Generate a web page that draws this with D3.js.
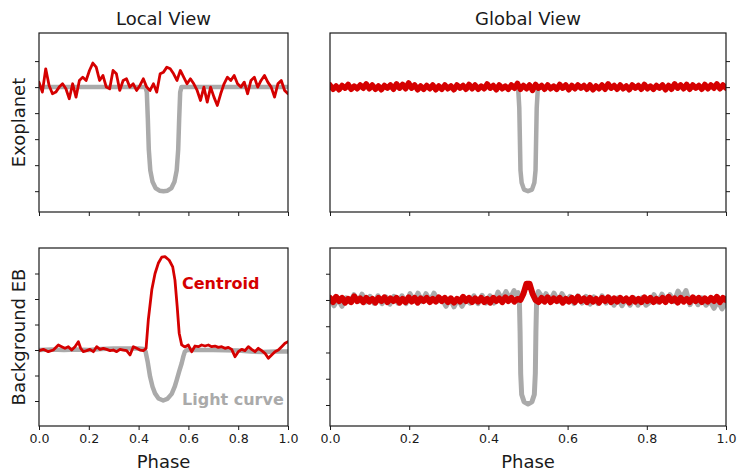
<!DOCTYPE html>
<html>
<head>
<meta charset="utf-8">
<script src="https://cdn.jsdelivr.net/npm/d3@7"></script>
<style>
  html, body { margin: 0; padding: 0; background: #fff; }
  svg { display: block; font-family: "DejaVu Sans", sans-serif; }
</style>
</head>
<body>
<svg id="chart" width="738" height="471"></svg>
<script>
// ---------------- data ----------------
const phaseTicks = [0, 0.2, 0.4, 0.6, 0.8, 1.0];
const phaseTickLabels = ["0.0", "0.2", "0.4", "0.6", "0.8", "1.0"];
const rowLabels = ["Exoplanet", "Background EB"];
const columnTitles = ["Local View", "Global View"];

// Exoplanet, local view: folded light curve
const exoLocalLightPhase = [0, 0.428, 0.433, 0.437, 0.441, 0.447, 0.456, 0.468, 0.484, 0.5, 0.516, 0.532, 0.544, 0.553, 0.559, 0.563, 0.567, 0.572, 1];
const exoLocalLightFlux  = [0, 0, -0.05, -0.3, -0.6, -0.8, -0.91, -0.97, -0.995, -1.0, -0.995, -0.97, -0.91, -0.8, -0.6, -0.3, -0.05, 0, 0];

// Exoplanet, local view: centroid shift (evenly spaced in phase)
const exoLocalCentroid = [
  0.048, -0.048, 0.176, 0.016, -0.064, -0.048, 0, 0.032, -0.016, -0.112,
  0.032, -0.096, 0.064, 0.096, 0.064, 0.16, 0.231, 0.192, 0.064, 0.112,
  0, -0.016, 0.16, 0.128, -0.032, 0.064, 0.08, 0, 0.032, -0.032,
  0.016, 0.08, 0, -0.032, 0.032, -0.048, 0.128, 0.144, 0.192, 0.176,
  0.128, 0.064, 0.16, 0.096, 0.032, 0.08, 0.032, -0.032, -0.128, 0,
  -0.144, 0, -0.096, -0.176, -0.064, 0.032, 0.096, 0.064, 0.112, 0.032,
  0, 0.048, -0.064, 0.064, 0.096, 0, 0.064, 0.112, 0.048, 0,
  -0.096, 0.032, 0.064, -0.032, -0.064
];

// Exoplanet, global view: folded light curve
const exoGlobalLightPhase = [0, 0.475, 0.478, 0.4795, 0.481, 0.484, 0.49, 0.5, 0.51, 0.516, 0.519, 0.5205, 0.522, 0.525, 1];
const exoGlobalLightFlux  = [0, 0, -0.2, -0.5, -0.8, -0.92, -0.985, -1.0, -0.985, -0.92, -0.8, -0.5, -0.2, 0, 0];

// Exoplanet, global view: centroid shift (evenly spaced in phase)
const exoGlobalCentroid = [
  0.02, -0.02, 0.01, -0.025, 0.015, -0.01, 0.025, -0.02, 0.01, -0.015, 0.02, -0.01,
  0.03, -0.015, 0.02, -0.02, 0.01, -0.025, 0.015, -0.01, 0.02, -0.02, 0.03, -0.01,
  0.025, -0.015, 0.04, -0.01, 0.02, -0.025, 0.01, -0.02, 0.015, -0.015, 0.02, -0.025,
  0.01, -0.02, 0.02, -0.015, 0.01, -0.025, 0.02, -0.01, 0.015, -0.02, 0.025, -0.015,
  0.02, -0.02, 0.01, -0.015, 0.03, -0.01, 0.015, -0.025, 0.02, -0.015, 0.01, -0.02,
  0.02, -0.01, 0.035, -0.02, 0.015, -0.015, 0.02, -0.03, 0.025, -0.01, 0.015, -0.02,
  0.02, -0.015, 0.01, -0.02, 0.025, -0.01, 0.02, -0.025, 0.015, -0.015, 0.02, -0.01,
  0.015, -0.02, 0.02, -0.025, 0.01, -0.015, 0.02, -0.02, 0.03, -0.01, 0.015, -0.02,
  0.02, -0.015, 0.01, -0.025, 0.02, -0.01, 0.015, -0.02, 0.025, -0.015, 0.01, -0.02,
  0.015, -0.01, 0.02, -0.025, 0.015, -0.02, 0.03, -0.01, 0.02, -0.015, 0.025, -0.02,
  0.02, -0.01, 0.015, -0.02, 0.025, -0.015, 0.02, -0.01, 0.03, -0.015, 0.02, -0.01
];

// Background EB, local view: folded light curve
const ebLocalLightPhase = [0, 0.05, 0.1, 0.15, 0.2, 0.25, 0.3, 0.35, 0.4, 0.42, 0.428, 0.436, 0.446, 0.456, 0.466, 0.48, 0.499, 0.515, 0.533, 0.545, 0.553, 0.563, 0.573, 0.58, 0.586, 0.595, 0.62, 0.7, 0.8, 0.85, 0.9, 0.95, 1];
const ebLocalLightFlux  = [0, 0.01, 0, 0.01, 0, 0.02, 0.03, 0.03, 0.03, 0.02, -0.03, -0.22, -0.52, -0.72, -0.85, -0.95, -0.99, -0.96, -0.86, -0.72, -0.59, -0.42, -0.26, -0.12, -0.03, 0, 0, 0, -0.01, -0.03, -0.04, -0.03, -0.03];

// Background EB, local view: centroid shift
const ebLocalCentroidPhase = [
  0, 0.0174, 0.0375, 0.0576, 0.0777, 0.091, 0.1044, 0.1178, 0.1312, 0.1446,
  0.158, 0.1673, 0.178, 0.1914, 0.2048, 0.2182, 0.2316, 0.245, 0.2584, 0.2718,
  0.2851, 0.2985, 0.3119, 0.3253, 0.3387, 0.3521, 0.3655, 0.3789, 0.3923, 0.4056,
  0.419, 0.43, 0.439, 0.453, 0.466, 0.479, 0.493, 0.506, 0.523, 0.537,
  0.546, 0.555, 0.563, 0.573, 0.586, 0.5998, 0.6132, 0.6265, 0.6399, 0.6533,
  0.6667, 0.6801, 0.6935, 0.7068, 0.7202, 0.7336, 0.747, 0.7604, 0.7738, 0.7871,
  0.8005, 0.8139, 0.8273, 0.8407, 0.854, 0.8674, 0.8808, 0.8942, 0.9076, 0.921,
  0.9343, 0.9477, 0.9611, 0.9745, 0.9879, 1
];
const ebLocalCentroidShift = [
  -0.013, 0.013, -0.033, 0, 0.098, 0.065, 0.033, 0.065, 0, 0.065,
  0.163, 0.033, -0.033, -0.013, 0.013, -0.033, 0.065, 0.013, 0.033, 0.013,
  -0.013, 0, -0.033, 0.013, 0, -0.013, -0.098, 0.065, 0.033, 0,
  -0.013, 0.03, 0.59, 1.18, 1.5, 1.7, 1.82, 1.83, 1.76, 1.63,
  1.37, 0.85, 0.33, 0.1, 0.06, 0.098, -0.033, 0.078, 0.065, 0.098,
  0.078, 0.098, 0.065, 0.078, 0.052, 0.065, 0.033, 0.052, 0.013, -0.131,
  -0.033, 0.013, -0.013, 0.065, 0.013, -0.033, 0.033, -0.013, -0.065, -0.163,
  -0.098, -0.033, 0, 0.065, 0.131, 0.163
];

// Background EB, global view: light curve out of eclipse (evenly spaced in phase)
const ebGlobalLightBase = [
  0.015, -0.055, 0.01, -0.06, 0.02,
  -0.02, 0.05, -0.015, 0.055, -0.02,
  0.035, -0.03, 0.04, -0.035, 0.03, -0.04, 0.035, -0.03, 0.04, -0.035,
  0.06, -0.01, 0.065, -0.015, 0.06, -0.01, 0.065, -0.01,
  0.01, -0.06, 0.015, -0.065, 0.01, -0.06, 0.01,
  -0.03, 0.04, -0.035, 0.045, -0.03, 0.04, -0.03,
  0.075, 0.005, 0.08, 0.01, 0.09,
  0.05, 0, 0, 0, 0, 0.05,
  -0.01, 0.06, -0.01, 0.065, -0.015, 0.06, -0.01,
  0.035, -0.035, 0.04, -0.03, 0.035, -0.04, 0.03, -0.035, 0.04, -0.03,
  0.02, -0.05, 0.02, -0.055, 0.015, -0.05, 0.02, -0.05, 0.02, -0.05,
  -0.02, 0.05, -0.02, 0.055, -0.015, 0.05, -0.015,
  0.085, 0.02, 0.09,
  -0.045, 0.025, -0.045, 0.02, -0.05,
  -0.01, -0.08, -0.01, -0.085, -0.03
];
// Background EB, global view: light curve through the eclipse
const ebGlobalDipPhase = [0.47, 0.475, 0.478, 0.48, 0.4815, 0.484, 0.49, 0.5, 0.51, 0.516, 0.5185, 0.52, 0.522, 0.526, 0.532];
const ebGlobalDipFlux  = [0.05, 0.07, 0.04, -0.3, -0.7, -0.9, -0.97, -0.99, -0.97, -0.9, -0.7, -0.3, 0.04, 0.08, 0.05];

// Background EB, global view: centroid shift (evenly spaced in phase)
const ebGlobalCentroid = [
  0.02, -0.02, 0.03, -0.01, 0.02, -0.025, 0.01, -0.02, 0.035, -0.01, 0.015, -0.02,
  0.02, -0.015, 0.01, -0.025, 0.02, -0.01, 0.025, -0.02, 0.015, -0.01, 0.02, -0.025,
  0.01, -0.02, 0.025, -0.015, 0.02, -0.025, 0.015, -0.01, 0.02, -0.02, 0.01, -0.015,
  0.025, -0.01, 0.02, -0.02, 0.015, -0.025, 0.01, -0.015, 0.03, -0.01, 0.02, -0.02,
  0.015, -0.015, 0.02, -0.02, 0.01, -0.025, 0.02, -0.01, 0.015, -0.02, 0.025, -0.01,
  0.02, -0.015, 0.01, 0, 0.06, 0.155, 0.155, 0.06, 0, -0.02, 0.02, -0.015,
  0.025, -0.02, 0.015, -0.01, 0.02, -0.025, 0.01, -0.015, 0.02, -0.02, 0.03, -0.01,
  0.015, -0.02, 0.02, -0.015, 0.01, -0.025, 0.02, -0.01, 0.025, -0.02, 0.015, -0.015,
  0.02, -0.01, 0.015, -0.025, 0.02, -0.015, 0.01, -0.02, 0.025, -0.01, 0.02, -0.02,
  0.01, -0.015, 0.02, -0.02, 0.03, -0.01, 0.015, -0.025, 0.02, -0.015, 0.01, -0.02,
  0.025, -0.01, 0.02, -0.02, 0.015, -0.015, 0.02, -0.01, 0.03, -0.02, 0.02, 0
];

// ---------------- helpers ----------------
const RED = "#d50000";
const GRAY = "#aaaaaa";
const INK = "#1a1a1a";

const zipPhase = (phases, values) => phases.map((p, i) => ({ p, v: values[i] }));
const evenPhase = values => values.map((v, i) => ({ p: i / (values.length - 1), v }));

const ebGlobalLight = evenPhase(ebGlobalLightBase)
  .filter(d => d.p < ebGlobalDipPhase[0] - 0.002 || d.p > ebGlobalDipPhase[ebGlobalDipPhase.length - 1] + 0.002)
  .concat(zipPhase(ebGlobalDipPhase, ebGlobalDipFlux))
  .sort((a, b) => a.p - b.p);

// ---------------- layout ----------------
const svg = d3.select("#chart");
svg.append("rect").attr("width", 738).attr("height", 471).attr("fill", "#fff");

const cols = [{ x0: 39, x1: 288 }, { x0: 330, x1: 726 }];
const rows = [{ y0: 33, y1: 212 }, { y0: 248, y1: 426 }];

const panels = [
  { r: 0, c: 0, ydom: [-1.2, 0.52], yticks: [-1, -0.75, -0.5, -0.25, 0, 0.25], side: "left",
    light: zipPhase(exoLocalLightPhase, exoLocalLightFlux), cent: evenPhase(exoLocalCentroid),
    lw: 4.5, cw: 2.8 },
  { r: 0, c: 1, ydom: [-1.2, 0.52], yticks: [-1, -0.75, -0.5, -0.25, 0, 0.25], side: "right",
    light: zipPhase(exoGlobalLightPhase, exoGlobalLightFlux), cent: evenPhase(exoGlobalCentroid),
    lw: 4.5, cw: 5.6 },
  { r: 1, c: 0, ydom: [-1.49, 2.0], yticks: [-1, -0.5, 0, 0.5, 1, 1.5], side: "left",
    light: zipPhase(ebLocalLightPhase, ebLocalLightFlux), cent: zipPhase(ebLocalCentroidPhase, ebLocalCentroidShift),
    lw: 4.5, cw: 2.8 },
  { r: 1, c: 1, ydom: [-1.2, 0.495], yticks: [-1, -0.75, -0.5, -0.25, 0, 0.25], side: "left",
    light: ebGlobalLight, cent: evenPhase(ebGlobalCentroid),
    lw: 5, cw: 6 }
];

const defs = svg.append("defs");

panels.forEach((pn, idx) => {
  const col = cols[pn.c], row = rows[pn.r];
  const x = d3.scaleLinear().domain([0, 1]).range([col.x0, col.x1]);
  const y = d3.scaleLinear().domain(pn.ydom).range([row.y1, row.y0]);
  const g = svg.append("g");

  const clipId = "clip" + idx;
  defs.append("clipPath").attr("id", clipId)
    .append("rect").attr("x", col.x0).attr("y", row.y0)
    .attr("width", col.x1 - col.x0).attr("height", row.y1 - row.y0);

  const line = d3.line().x(d => x(d.p)).y(d => y(d.v));
  const plot = g.append("g").attr("clip-path", `url(#${clipId})`);

  plot.append("path").datum(pn.light).attr("d", line)
    .attr("fill", "none").attr("stroke", GRAY).attr("stroke-width", pn.lw)
    .attr("stroke-linejoin", "round").attr("stroke-linecap", "round");
  plot.append("path").datum(pn.cent).attr("d", line)
    .attr("fill", "none").attr("stroke", RED).attr("stroke-width", pn.cw)
    .attr("stroke-linejoin", "round").attr("stroke-linecap", "round");

  // x axis
  const xAxis = d3.axisBottom(x).tickValues(phaseTicks).tickSize(4).tickPadding(4)
    .tickFormat((d, i) => pn.r === 1 ? phaseTickLabels[i] : "");
  const gx = g.append("g").attr("transform", `translate(0,${row.y1})`).call(xAxis);
  gx.select(".domain").remove();
  gx.selectAll(".tick line").attr("stroke", INK).attr("stroke-width", 1);
  gx.selectAll(".tick text").attr("fill", INK).attr("font-size", 12.6)
    .attr("font-family", "DejaVu Sans, sans-serif");

  // y axis (ticks only, no labels)
  const yAxis = (pn.side === "left" ? d3.axisLeft(y) : d3.axisRight(y))
    .tickValues(pn.yticks).tickSize(4).tickFormat("");
  const gy = g.append("g")
    .attr("transform", `translate(${pn.side === "left" ? col.x0 : col.x1},0)`).call(yAxis);
  gy.select(".domain").remove();
  gy.selectAll(".tick line").attr("stroke", INK).attr("stroke-width", 1);

  // frame
  g.append("rect").attr("x", col.x0).attr("y", row.y0)
    .attr("width", col.x1 - col.x0).attr("height", row.y1 - row.y0)
    .attr("fill", "none").attr("stroke", INK).attr("stroke-width", 1.2);
});

// column titles and shared x label
columnTitles.forEach((t, i) => {
  svg.append("text").attr("x", (cols[i].x0 + cols[i].x1) / 2).attr("y", 25)
    .attr("text-anchor", "middle").attr("font-size", 18).attr("fill", INK).text(t);
  svg.append("text").attr("x", (cols[i].x0 + cols[i].x1) / 2).attr("y", 468)
    .attr("text-anchor", "middle").attr("font-size", 18).attr("fill", INK).text("Phase");
});

// row labels
rowLabels.forEach((t, i) => {
  const cy = (rows[i].y0 + rows[i].y1) / 2;
  svg.append("text").attr("transform", `translate(25,${cy}) rotate(-90)`)
    .attr("text-anchor", "middle").attr("font-size", 18).attr("fill", INK).text(t);
});

// series annotations
svg.append("text").attr("x", 182).attr("y", 288.5)
  .attr("font-size", 16).attr("font-weight", "bold").attr("fill", RED).text("Centroid");
svg.append("text").attr("x", 182).attr("y", 404.5)
  .attr("font-size", 16).attr("font-weight", "bold").attr("fill", GRAY).text("Light curve");
</script>
</body>
</html>
